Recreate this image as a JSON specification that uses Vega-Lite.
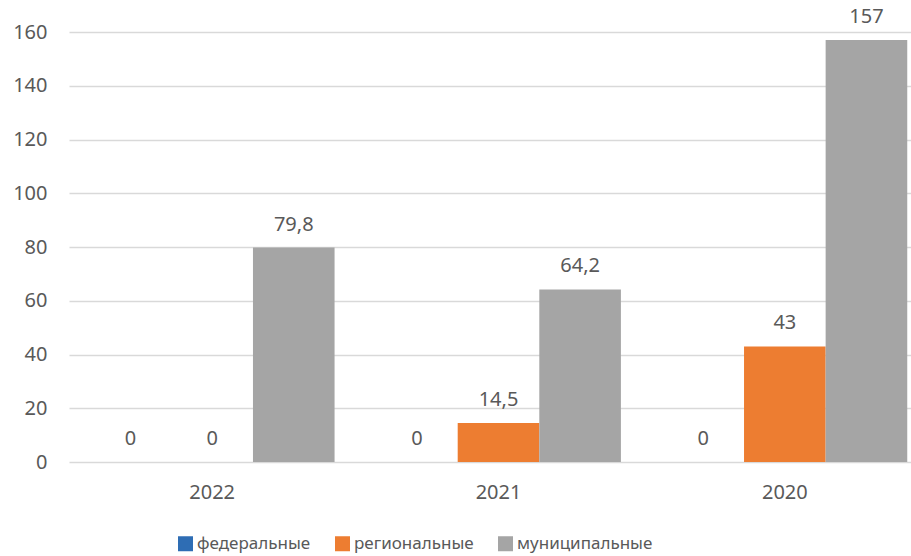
{
  "$schema": "https://vega.github.io/schema/vega-lite/v6.json",
  "width": 859,
  "height": 430,
  "autosize": {"type": "none"},
  "padding": {"left": 69, "top": 32, "right": -17, "bottom": 94},
  "background": "white",
  "config": {
    "locale": {"number": {"decimal": ",", "thousands": " ", "grouping": [3], "currency": ["", ""]}},
    "view": {"stroke": null},
    "font": "Noto Sans"
  },
  "data": {
    "values": [
      {"year": "2022", "type": "федеральные", "value": 0},
      {"year": "2022", "type": "региональные", "value": 0},
      {"year": "2022", "type": "муниципальные", "value": 79.8},
      {"year": "2021", "type": "федеральные", "value": 0},
      {"year": "2021", "type": "региональные", "value": 14.5},
      {"year": "2021", "type": "муниципальные", "value": 64.2},
      {"year": "2020", "type": "федеральные", "value": 0},
      {"year": "2020", "type": "региональные", "value": 43},
      {"year": "2020", "type": "муниципальные", "value": 157}
    ]
  },
  "encoding": {
    "x": {
      "field": "year", "type": "nominal", "sort": ["2022", "2021", "2020"],
      "scale": {"paddingInner": 0.145, "paddingOuter": 0.0725},
      "axis": {"title": null, "labelAngle": 0, "labelFontSize": 20, "labelColor": "#595959", "labelPadding": 20, "ticks": false, "domain": false, "labelFont": "Noto Sans"}
    },
    "xOffset": {
      "field": "type", "type": "nominal", "sort": ["федеральные", "региональные", "муниципальные"],
      "scale": {"paddingInner": 0, "paddingOuter": 0}
    },
    "y": {
      "field": "value", "type": "quantitative",
      "scale": {"domain": [0, 160], "nice": false},
      "axis": {"title": null, "values": [0, 20, 40, 60, 80, 100, 120, 140, 160], "labelFontSize": 20, "labelColor": "#595959", "labelPadding": 22, "ticks": false, "domain": false, "gridColor": "#D9D9D9", "gridWidth": 1.5, "labelFont": "Noto Sans"}
    }
  },
  "layer": [
    {
      "mark": {"type": "bar"},
      "encoding": {
        "color": {
          "field": "type", "type": "nominal", "sort": ["федеральные", "региональные", "муниципальные"],
          "scale": {"domain": ["федеральные", "региональные", "муниципальные"], "range": ["#2E6DB4", "#ED7D31", "#A5A5A5"]},
          "legend": {
            "title": null, "orient": "none", "direction": "horizontal", "legendX": 108, "legendY": 503,
            "symbolType": "square", "symbolSize": 225, "symbolStrokeWidth": 0, "labelFontSize": 17, "labelColor": "#595959",
            "columnPadding": 23, "labelOffset": 3, "labelFont": "Noto Sans"
          }
        }
      }
    },
    {
      "mark": {"type": "text", "baseline": "middle", "dy": -23, "fontSize": 20, "color": "#595959", "font": "Noto Sans"},
      "encoding": {
        "text": {"field": "value", "type": "quantitative", "format": ".1~f"}
      }
    }
  ]
}
